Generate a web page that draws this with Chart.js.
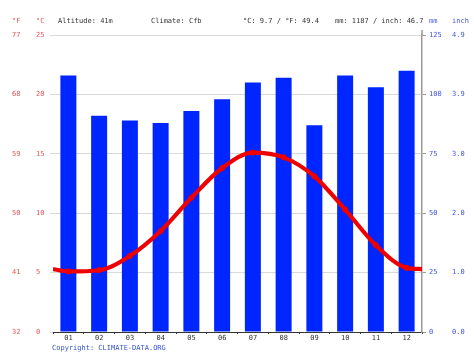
<!DOCTYPE html>
<html><head><meta charset="utf-8">
<script src="https://cdn.jsdelivr.net/npm/chart.js@4/dist/chart.umd.min.js"></script>
<style>
html,body{margin:0;padding:0;background:#fff;}
#wrap{position:relative;width:474px;height:355px;}
canvas{position:absolute;left:0;top:0;}
.t{position:absolute;font:7px "DejaVu Sans Mono",monospace;line-height:8px;white-space:pre;color:#333;}
</style></head><body>
<div id="wrap">
<canvas id="c" width="474" height="355"></canvas>
<div class="t" style="left:12px;top:17px;color:#e05555">°F</div>
<div class="t" style="left:36px;top:17px;color:#e05555">°C</div>
<div class="t" style="left:58px;top:17px">Altitude: 41m</div>
<div class="t" style="left:151px;top:17px">Climate: Cfb</div>
<div class="t" style="left:243px;top:17px">°C: 9.7 / °F: 49.4</div>
<div class="t" style="left:335px;top:17px">mm: 1187 / inch: 46.7</div>
<div class="t" style="left:429px;top:17px;color:#4455dd">mm</div>
<div class="t" style="left:452px;top:17px;color:#4455dd">inch</div>
<div class="t" style="left:52px;top:344px;color:#3355cc">Copyright: CLIMATE-DATA.ORG</div>
</div>
<script>
const months = ["01","02","03","04","05","06","07","08","09","10","11","12"];
const precipMm = [108,91,89,88,93,98,105,107,87,108,103,110];
const tempC = [5.1,5.2,6.4,8.5,11.3,13.8,15.1,14.7,13.1,10.3,7.3,5.4];
const tempEdgeC = 5.3; // value at the chart's left/right edges (year wrap)
const fLabels = ["32","41","50","59","68","77"];
const inchLabels = ["0.0","1.0","2.0","3.0","3.9","4.9"];

const linePts = [{x:0.5,y:tempEdgeC}]
  .concat(tempC.map((v,i)=>({x:i+1,y:v})))
  .concat([{x:12.5,y:tempEdgeC}]);
const ptRadius = linePts.map((p,i)=> (i===0||i===linePts.length-1)?0:2.6);

const font7 = {family:'"DejaVu Sans Mono", monospace', size:7};
const fix = w => (s)=>{ s.width = w; };

const axisTop = {
  id:'axisTop',
  afterDraw(chart){
    const s = chart.scales.mm, ctx = chart.ctx;
    ctx.save();
    ctx.strokeStyle = '#999'; ctx.lineWidth = 1.5;
    ctx.beginPath(); ctx.moveTo(s.left, s.top - 5); ctx.lineTo(s.left, s.top); ctx.stroke();
    ctx.restore();
  }
};

new Chart(document.getElementById('c'), {
  type:'bar',
  data:{
    labels: months,
    datasets:[
      {type:'line', data:linePts, xAxisID:'xl', yAxisID:'y', order:0,
       borderColor:'#ee0000', backgroundColor:'#ee0000', borderWidth:4.2,
       pointRadius:ptRadius, pointBorderWidth:1, pointHoverRadius:0,
       cubicInterpolationMode:'monotone'},
      {type:'bar', data:precipMm, xAxisID:'x', yAxisID:'mm', order:1, grouped:false,
       backgroundColor:'#0026ff', borderWidth:0, barPercentage:0.52, categoryPercentage:1}
    ]
  },
  plugins:[axisTop],
  options:{
    responsive:false, animation:false, devicePixelRatio:1,
    layout:{padding:{left:12,right:0,top:35,bottom:9}},
    plugins:{legend:{display:false}, tooltip:{enabled:false}},
    scales:{
      x:{type:'category', position:'bottom', offset:true,
         grid:{offset:true, drawOnChartArea:false, drawTicks:true, tickLength:2, color:'#333'},
         border:{display:true, color:'#333', width:1},
         ticks:{font:font7, color:'#333', padding:0, maxRotation:0, autoSkip:false},
         afterFit:(s)=>{s.height=14;}},
      xl:{type:'linear', display:false, min:0.5, max:12.5, offset:false, grid:{offset:false}},
      y:{type:'linear', position:'left', weight:0, min:0, max:25,
         ticks:{stepSize:5, font:font7, color:'#e05555', crossAlign:'far', padding:3},
         grid:{color:'#d9d9d9', tickLength:3, drawTicks:true},
         border:{display:false},
         afterFit:fix(17)},
      yF:{type:'linear', position:'left', weight:1, min:32, max:77,
         ticks:{stepSize:9, font:font7, color:'#e05555', crossAlign:'far',
                callback:(v)=>fLabels[Math.round((v-32)/9)]},
         grid:{display:false}, border:{display:false},
         afterFit:fix(24)},
      mm:{type:'linear', position:'right', weight:0, min:0, max:125,
         ticks:{stepSize:25, font:font7, color:'#4455dd', crossAlign:'near', padding:3},
         grid:{drawOnChartArea:false, drawTicks:true, tickLength:4, color:'#999'},
         border:{display:true, color:'#999', width:1.5},
         afterFit:fix(30)},
      inch:{type:'linear', position:'right', weight:1, min:0, max:125,
         ticks:{stepSize:25, font:font7, color:'#4455dd', crossAlign:'near', padding:0,
                callback:(v)=>inchLabels[Math.round(v/25)]},
         grid:{display:false, drawTicks:false, tickLength:0}, border:{display:false},
         afterFit:fix(22)}
    }
  }
});
</script>
</body></html>
